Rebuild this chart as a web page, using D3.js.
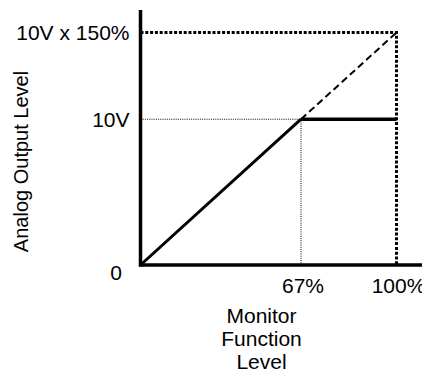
<!DOCTYPE html>
<html>
<head>
<meta charset="utf-8">
<script src="https://cdn.jsdelivr.net/npm/d3@7/dist/d3.min.js"></script>
<style>
  html, body { margin: 0; padding: 0; background: #fff; }
  svg { display: block; }
  text { font-family: "Liberation Sans", Arial, Helvetica, sans-serif; fill: #000; }
</style>
</head>
<body>
<svg id="chart" width="422" height="374"></svg>
<script>
// ---- data ----
const xTickValues = [67, 100];
const xTickLabels = ["67%", "100%"];
const yTickValues = [10, 15];
const yTickLabels = ["10V", "10V x 150%"];
const originLabel = "0";
const outputRising = [[0, 0], [67, 10]];        // solid, proportional part
const outputClamped = [[67, 10], [100, 10]];    // solid, clamped at 10V
const outputUnclamped = [[67, 10], [100, 15]];  // dashed continuation
const yTitle = "Analog Output Level";
const xTitleLines = ["Monitor", "Function", "Level"];

// ---- layout ----
const svg = d3.select("#chart");
const W = 422, H = 374;
const margin = { left: 140.5, bottom: 109, top: 10 };
const plotW = 256;             // to 100%
const originY = H - margin.bottom;
const plotH = 232.5;           // to 150% level
const frac = 0.627;            // schematic placement of 67% / 10V

const x = d3.scaleLinear().domain([0, 67, 100])
  .range([margin.left, margin.left + plotW * frac, margin.left + plotW]);
const y = d3.scaleLinear().domain([0, 10, 15])
  .range([originY, originY - plotH * frac, originY - plotH]);

const line = d3.line().x(d => x(d[0])).y(d => y(d[1]));

// thin dotted guides for 67% / 10V
svg.append("path")
  .attr("d", line([[0, 10], [67, 10]]))
  .attr("fill", "none").attr("stroke", "#000").attr("stroke-width", 1)
  .attr("stroke-dasharray", "1,1.2");
svg.append("path")
  .attr("d", line([[67, 10], [67, 0]]))
  .attr("fill", "none").attr("stroke", "#000").attr("stroke-width", 1)
  .attr("stroke-dasharray", "1,1.2");

// thick dotted guides for 100% / 150%
svg.append("path")
  .attr("d", line([[0, 15], [100, 15], [100, 0]]))
  .attr("fill", "none").attr("stroke", "#000").attr("stroke-width", 3)
  .attr("stroke-dasharray", "3,1.8");

// dashed unclamped continuation
svg.append("path")
  .attr("d", line(outputUnclamped))
  .attr("fill", "none").attr("stroke", "#000").attr("stroke-width", 2)
  .attr("stroke-dasharray", "7,4");

// solid output
svg.append("path")
  .attr("d", line(outputRising))
  .attr("fill", "none").attr("stroke", "#000").attr("stroke-width", 3);
svg.append("path")
  .attr("d", line(outputClamped))
  .attr("fill", "none").attr("stroke", "#000").attr("stroke-width", 3.5);

// axes lines
svg.append("line")
  .attr("x1", x(0)).attr("x2", x(0))
  .attr("y1", margin.top).attr("y2", originY + 1.5)
  .attr("stroke", "#000").attr("stroke-width", 3.5);
svg.append("line")
  .attr("x1", x(0) - 1.5).attr("x2", W)
  .attr("y1", originY).attr("y2", originY)
  .attr("stroke", "#000").attr("stroke-width", 3.5);

// y tick labels
svg.selectAll("text.ytick").data(yTickValues).enter().append("text")
  .attr("class", "ytick")
  .attr("x", x(0) - 11)
  .attr("y", d => y(d))
  .attr("dy", "0.35em")
  .attr("text-anchor", "end")
  .attr("font-size", 21)
  .text((d, i) => yTickLabels[i]);

// x tick labels
svg.selectAll("text.xtick").data(xTickValues).enter().append("text")
  .attr("class", "xtick")
  .attr("x", d => x(d) + 2)
  .attr("y", originY + 28)
  .attr("text-anchor", "middle")
  .attr("font-size", 21)
  .text((d, i) => xTickLabels[i]);

// origin label
svg.append("text")
  .attr("x", x(0) - 24.5)
  .attr("y", originY + 15)
  .attr("text-anchor", "middle")
  .attr("font-size", 21)
  .text(originLabel);

// y title
svg.append("text")
  .attr("transform", `translate(28, 161.5) rotate(-90)`)
  .attr("text-anchor", "middle")
  .attr("font-size", 20)
  .text(yTitle);

// x title (three lines)
svg.selectAll("text.xtitle").data(xTitleLines).enter().append("text")
  .attr("class", "xtitle")
  .attr("x", 261.5)
  .attr("y", (d, i) => originY + 58 + i * 23)
  .attr("text-anchor", "middle")
  .attr("font-size", 21)
  .text(d => d);
</script>
</body>
</html>
